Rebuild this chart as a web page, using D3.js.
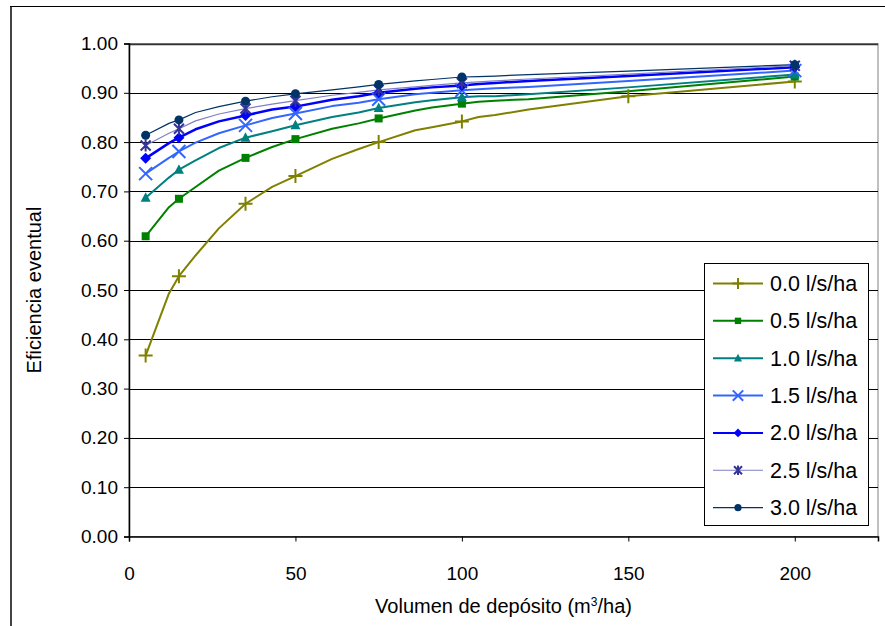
<!DOCTYPE html>
<html><head><meta charset="utf-8">
<script src="https://cdn.jsdelivr.net/npm/d3@7"></script>
<style>body{margin:0;background:#fff}svg{display:block}text{font-family:"Liberation Sans",Arial,sans-serif;fill:#000}</style>
</head><body><svg id="c" width="885" height="626"></svg>
<script>
// ---- data ----
const seriesNames = ["0.0 l/s/ha","0.5 l/s/ha","1.0 l/s/ha","1.5 l/s/ha","2.0 l/s/ha","2.5 l/s/ha","3.0 l/s/ha"];
const lineX = [5, 12, 15, 20, 27, 35, 43, 50, 61, 69, 75, 86, 91, 100, 105, 110, 120, 150, 200];
const s00 = [0.367,0.493,0.528,0.570,0.625,0.675,0.709,0.731,0.766,0.786,0.800,0.824,0.830,0.842,0.851,0.855,0.866,0.893,0.923];
const s05 = [0.609,0.668,0.685,0.709,0.742,0.768,0.790,0.806,0.827,0.838,0.848,0.864,0.870,0.878,0.882,0.884,0.887,0.903,0.933];
const s10 = [0.687,0.728,0.744,0.763,0.788,0.809,0.822,0.834,0.851,0.860,0.869,0.881,0.885,0.891,0.893,0.893,0.897,0.911,0.937];
const s15 = [0.736,0.768,0.781,0.799,0.818,0.834,0.849,0.858,0.873,0.880,0.887,0.897,0.900,0.905,0.907,0.909,0.912,0.924,0.945];
const s20 = [0.767,0.798,0.809,0.826,0.842,0.854,0.866,0.872,0.886,0.893,0.900,0.908,0.911,0.915,0.918,0.920,0.924,0.934,0.952];
const s25 = [0.793,0.818,0.827,0.843,0.857,0.868,0.877,0.884,0.895,0.901,0.906,0.912,0.915,0.920,0.922,0.924,0.928,0.938,0.955];
const s30 = [0.814,0.838,0.845,0.860,0.872,0.883,0.892,0.898,0.906,0.912,0.917,0.924,0.927,0.932,0.933,0.934,0.937,0.944,0.957];
const markX0 = [5,15,35,50,75,100,150,200];
const markX = [5,15,35,50,75,100,200];
const xTicks = [0,50,100,150,200];
const yTicks = [0,0.1,0.2,0.3,0.4,0.5,0.6,0.7,0.8,0.9,1.0];
const xTitle = "Volumen de depósito (m";
const yTitle = "Eficiencia eventual";

// ---- styles ----
const styles = [
  {line:"#808000", mark:"#808000", w:2,   sym:"plus"},
  {line:"#008000", mark:"#008000", w:2,   sym:"square"},
  {line:"#008080", mark:"#008080", w:2,   sym:"triangle"},
  {line:"#3366FF", mark:"#3366FF", w:2,   sym:"x"},
  {line:"#0000FF", mark:"#0000FF", w:2.5, sym:"diamond"},
  {line:"#7F7FC8", mark:"#333399", w:1.2, sym:"star"},
  {line:"#003366", mark:"#003366", w:1.2, sym:"circle"}
];
const allSeries = [s00,s05,s10,s15,s20,s25,s30];

const svg = d3.select("#c");
const L = 129, R = 878, T = 43.5, B = 536.5;
const x = d3.scaleLinear().domain([0,225]).range([L,R]);
const y = d3.scaleLinear().domain([0,1]).range([B,T]);

// outer frame (cropped)
svg.append("line").attr("x1",11).attr("x2",11).attr("y1",6).attr("y2",626).attr("stroke","#444").attr("stroke-width",2);
svg.append("line").attr("x1",10).attr("x2",885).attr("y1",6.5).attr("y2",6.5).attr("stroke","#000").attr("stroke-width",1);

// plot area border
svg.append("rect").attr("x",L).attr("y",T).attr("width",R-L).attr("height",B-T)
  .attr("fill","#fff").attr("stroke","#808080").attr("stroke-width",1);

// gridlines
svg.append("g").selectAll("line").data(yTicks.filter(d=>d>0)).join("line")
  .attr("x1",L).attr("x2",R).attr("y1",d=>Math.round(y(d))+0.5).attr("y2",d=>Math.round(y(d))+0.5)
  .attr("stroke",d=>d===1?"#333":"#000").attr("stroke-width",d=>d===1?1.5:1);

// axes
const yAxis = d3.axisLeft(y).tickValues(yTicks).tickFormat(d3.format(".2f")).tickSize(5).tickPadding(6);
const gy = svg.append("g").attr("transform",`translate(${L},0)`).call(yAxis);
gy.select(".domain").attr("stroke","#000").attr("stroke-width",1.5);
gy.selectAll(".tick line").attr("stroke","#000");
gy.selectAll(".tick text").attr("font-size",19).attr("font-family","Liberation Sans, Arial");

const xAxis = d3.axisBottom(x).tickValues(xTicks).tickSize(5).tickPadding(25);
const gx = svg.append("g").attr("transform",`translate(0,${B})`).call(xAxis);
gx.select(".domain").attr("stroke","#000").attr("stroke-width",1.5);
gx.selectAll(".tick line").attr("stroke","#000");
gx.selectAll(".tick text").attr("font-size",19).attr("font-family","Liberation Sans, Arial");

// titles
const xt = svg.append("text").attr("x",(L+R)/2).attr("y",613).attr("text-anchor","middle").attr("font-size",20);
xt.append("tspan").text(xTitle);
xt.append("tspan").attr("font-size",12).attr("dy",-7).text("3");
xt.append("tspan").attr("dy",7).text("/ha)");
svg.append("text").attr("transform",`translate(41,${(T+B)/2}) rotate(-90)`).attr("text-anchor","middle")
  .attr("font-size",20).text(yTitle);

// symbols
function drawSym(g, sym, cx, cy, color, s) {
  s = s || 1;
  if (sym==="plus") {
    g.append("path").attr("d",`M${cx-7*s},${cy}H${cx+7*s}M${cx},${cy-7*s}V${cy+7*s}`).attr("stroke",color).attr("stroke-width",2).attr("fill","none");
  } else if (sym==="square") {
    g.append("rect").attr("x",cx-4*s).attr("y",cy-4*s).attr("width",8*s).attr("height",8*s).attr("fill",color);
  } else if (sym==="triangle") {
    g.append("path").attr("d",`M${cx},${cy-5.5*s}L${cx+5*s},${cy+4*s}L${cx-5*s},${cy+4*s}Z`).attr("fill",color);
  } else if (sym==="x") {
    g.append("path").attr("d",`M${cx-6.5*s},${cy-6.5*s}L${cx+6.5*s},${cy+6.5*s}M${cx-6.5*s},${cy+6.5*s}L${cx+6.5*s},${cy-6.5*s}`).attr("stroke",color).attr("stroke-width",2).attr("fill","none");
  } else if (sym==="diamond") {
    g.append("path").attr("d",`M${cx},${cy-5.5*s}L${cx+5.5*s},${cy}L${cx},${cy+5.5*s}L${cx-5.5*s},${cy}Z`).attr("fill",color);
  } else if (sym==="star") {
    g.append("path").attr("d",`M${cx-5*s},${cy-5*s}L${cx+5*s},${cy+5*s}M${cx-5*s},${cy+5*s}L${cx+5*s},${cy-5*s}M${cx},${cy-6*s}V${cy+6*s}`).attr("stroke",color).attr("stroke-width",2).attr("fill","none");
  } else if (sym==="circle") {
    g.append("circle").attr("cx",cx).attr("cy",cy).attr("r",4.5*s).attr("fill",color);
  }
}

const line = d3.line().x(d=>x(d[0])).y(d=>y(d[1]));
const plot = svg.append("g");
allSeries.forEach((vals,i)=>{
  const st = styles[i];
  const pts = lineX.map((xv,j)=>[xv, vals[j]]);
  plot.append("path").attr("d",line(pts)).attr("fill","none").attr("stroke",st.line)
    .attr("stroke-width",st.w).attr("stroke-linejoin","round");
});
allSeries.forEach((vals,i)=>{
  const st = styles[i];
  const mx = i===0 ? markX0 : markX;
  const g = plot.append("g");
  mx.forEach(xv=>{
    const j = lineX.indexOf(xv);
    drawSym(g, st.sym, x(xv), y(vals[j]), st.mark, 1);
  });
});

// legend
const lg = svg.append("g");
lg.append("rect").attr("x",704.5).attr("y",263.5).attr("width",164).attr("height",262)
  .attr("fill","#fff").attr("stroke","#000").attr("stroke-width",1);
seriesNames.forEach((name,i)=>{
  const st = styles[i];
  const cy = 283.5 + i*37.35;
  lg.append("line").attr("x1",713).attr("x2",763).attr("y1",cy).attr("y2",cy)
    .attr("stroke",st.line).attr("stroke-width",Math.min(st.w,2));
  drawSym(lg, st.sym, 738, cy, st.mark, 0.8);
  lg.append("text").attr("x",770).attr("y",cy+7.5).attr("font-size",21.5).text(name);
});
</script></body></html>
